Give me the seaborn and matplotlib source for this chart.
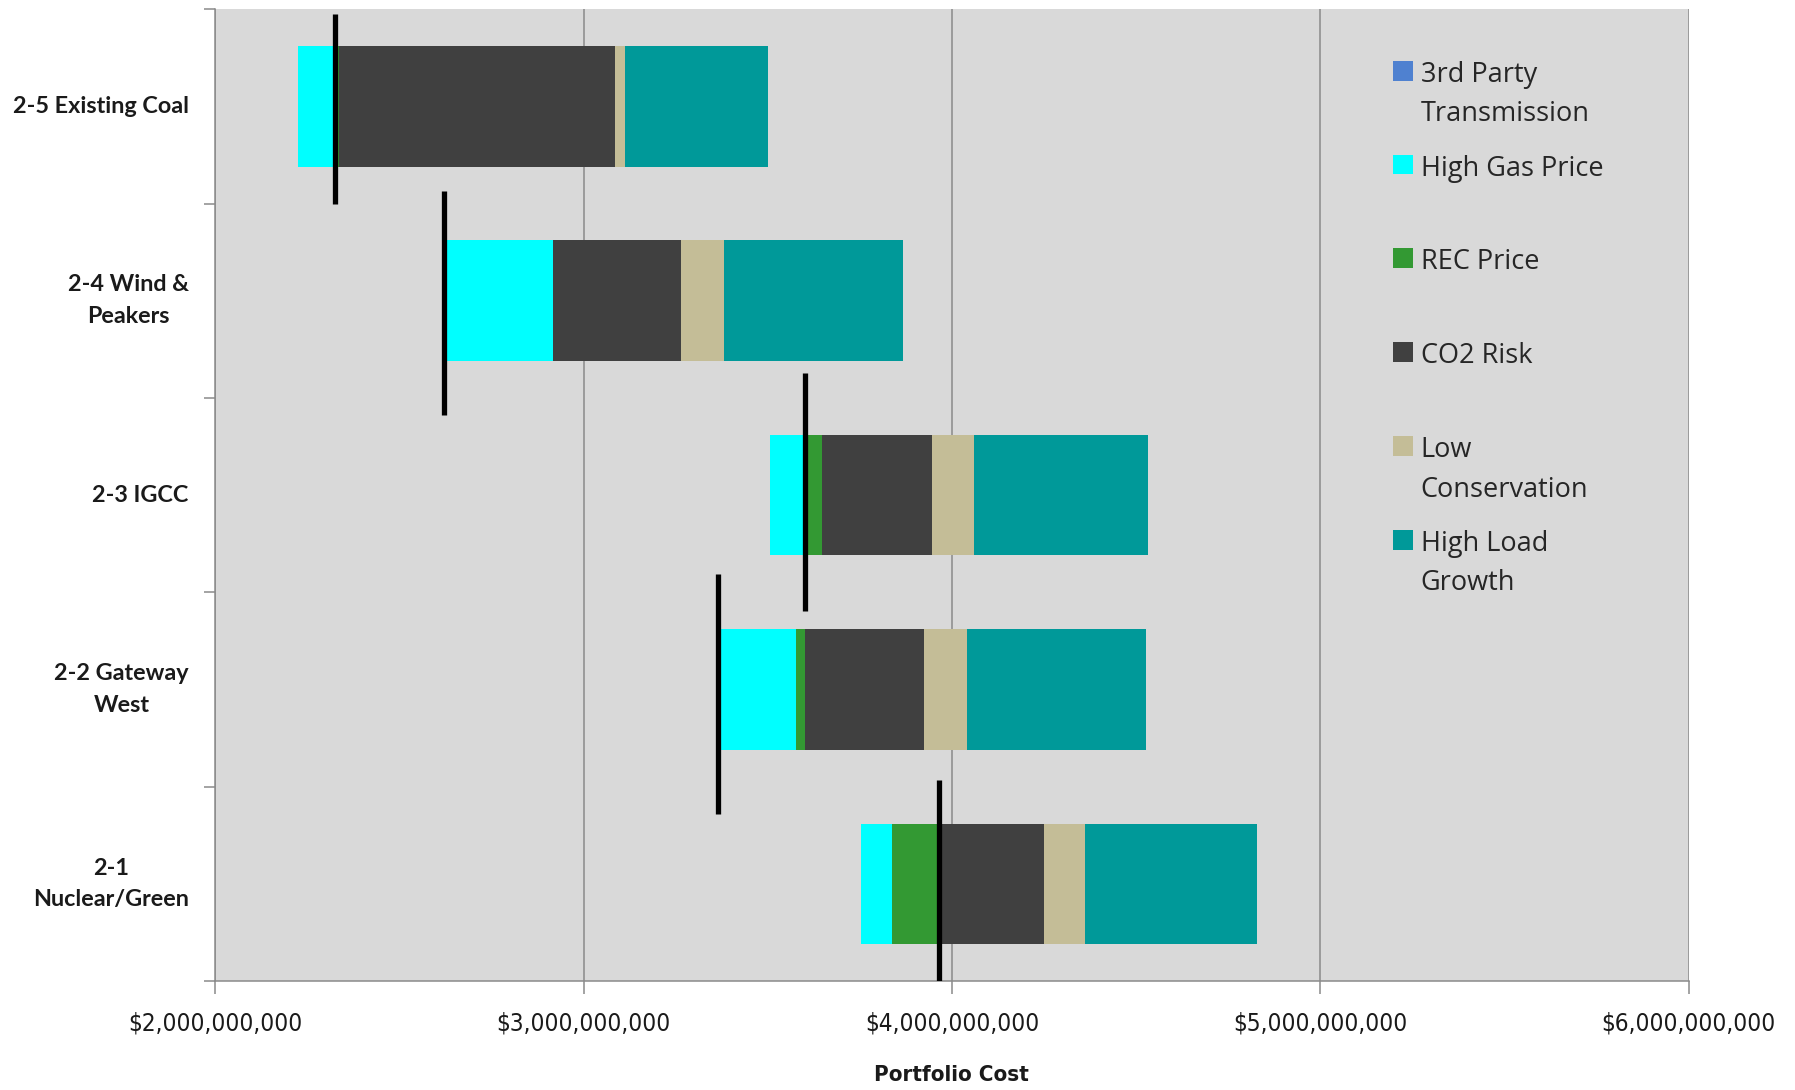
import numpy as np
import pandas as pd
import matplotlib
matplotlib.use("Agg")
import matplotlib.pyplot as plt
import seaborn as sns
from matplotlib.patches import Patch
from matplotlib.ticker import FuncFormatter, FixedLocator

# ---------------- data (values in dollars) ----------------
portfolios = ["2-5 Existing Coal", "2-4 Wind &\nPeakers", "2-3 IGCC",
              "2-2 Gateway\nWest", "2-1\nNuclear/Green"]
bar_start = [2.226e9, 2.627e9, 3.505e9, 3.374e9, 3.754e9]
third_party_transmission = [0.0, 0.0, 0.0, 0.0, 0.0]
high_gas_price = [0.105e9, 0.290e9, 0.093e9, 0.203e9, 0.083e9]
rec_price = [0.006e9, 0.0, 0.050e9, 0.025e9, 0.131e9]
co2_risk = [0.749e9, 0.347e9, 0.299e9, 0.322e9, 0.281e9]
low_conservation = [0.026e9, 0.118e9, 0.112e9, 0.117e9, 0.113e9]
high_load_growth = [0.390e9, 0.486e9, 0.474e9, 0.486e9, 0.465e9]
base_cost = [2.325e9, 2.622e9, 3.600e9, 3.365e9, 3.964e9]
base_line_up = [0.476, 0.565, 0.630, 0.594, 0.535]
base_line_down = [0.500, 0.588, 0.594, 0.641, 0.506]
x_ticks = [2e9, 3e9, 4e9, 5e9, 6e9]

series_names = ["3rd Party\nTransmission", "High Gas Price", "REC Price",
                "CO2 Risk", "Low\nConservation", "High Load\nGrowth"]
series_values = [third_party_transmission, high_gas_price, rec_price,
                 co2_risk, low_conservation, high_load_growth]
series_colors = ["#4F81D0", "#00FFFF", "#339933", "#404040", "#C4BD97", "#009999"]

df = pd.DataFrame({"portfolio": portfolios})
for name, vals in zip(series_names, series_values):
    df[name] = vals

# ---------------- figure ----------------
sns.set_theme(style="white")
plt.rcParams["font.family"] = ["Open Sans", "DejaVu Sans"]

fig = plt.figure(figsize=(17.95, 10.9), dpi=100)
ax = fig.add_axes([0.1199, 0.1000, 0.8208, 0.8916])
ax.set_facecolor("#D9D9D9")

left = np.array(bar_start, dtype=float)
for name, vals, col in zip(series_names, series_values, series_colors):
    sns.barplot(data=df, y="portfolio", x=name, order=portfolios, orient="h",
                color=col, width=0.62, errorbar=None, ax=ax,
                left=left.copy(), linewidth=0, saturation=1, zorder=3)
    left = left + np.array(vals, dtype=float)

# black base-cost lines
ypos = np.arange(len(portfolios))
ax.vlines(base_cost, ypos - np.array(base_line_up), ypos + np.array(base_line_down),
          colors="black", linewidth=3.8, zorder=5)

# axes limits / grid
ax.set_xlim(x_ticks[0], x_ticks[-1])
ax.set_ylim(len(portfolios) - 0.5, -0.5)
ax.xaxis.set_major_locator(FixedLocator(x_ticks))
ax.xaxis.set_major_formatter(FuncFormatter(lambda v, p: "${:,.0f}".format(v)))
ax.grid(axis="x", color="#8A8A8A", linewidth=1.1, zorder=1)
ax.grid(axis="y", visible=False)
ax.set_axisbelow(True)

for s in ["top", "right"]:
    ax.spines[s].set_visible(False)
for s in ["left", "bottom"]:
    ax.spines[s].set_color("#8A8A8A")
    ax.spines[s].set_linewidth(1.1)

# y ticks: labels at centres, tick marks at boundaries
ax.set_yticks(ypos)
ax.set_yticklabels(portfolios, fontfamily=["Lato", "DejaVu Sans"],
                   fontweight="bold", fontsize=16.8, color="#1A1A1A",
                   multialignment="center", linespacing=1.62, va="center")
ax.set_yticks(np.arange(len(portfolios) + 1) - 0.5, minor=True)
ax.tick_params(axis="y", which="major", length=0, pad=19)
ax.tick_params(axis="y", which="minor", left=True, length=8, width=1.1,
               color="#8A8A8A")
ax.tick_params(axis="x", which="major", bottom=True, length=9, width=1.1,
               color="#8A8A8A", pad=13)
for t in ax.get_xticklabels():
    t.set_fontfamily(["DejaVu Sans"])
    t.set_fontstretch("condensed")
    t.set_fontsize(17.5)
    t.set_color("#1A1A1A")

ax.set_ylabel("")
ax.set_xlabel("Portfolio Cost", fontfamily=["DejaVu Sans"], fontstretch="condensed",
              fontweight="bold", fontsize=16, color="#1A1A1A", labelpad=21)

# legend
handles = [Patch(facecolor=c, edgecolor="none") for c in series_colors]
labels = [n if "\n" in n else n + "\n" for n in series_names]
leg = ax.legend(handles, labels, loc="upper left", bbox_to_anchor=(0.792, 0.958),
                frameon=False, fontsize=19.5, handlelength=0.75, handleheight=0.75,
                handletextpad=0.28, labelspacing=0.97, borderaxespad=0)
for t in leg.get_texts():
    t.set_color("#262626")
    t.set_linespacing(1.55)
try:
    for col in leg._legend_handle_box.get_children():
        for hp in col.get_children():
            hp.align = "top"
except Exception:
    pass

fig.savefig("out.png", dpi=100, facecolor="white")
